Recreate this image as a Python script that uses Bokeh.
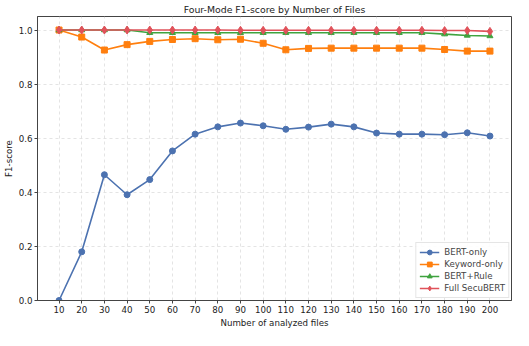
from bokeh.plotting import figure
from bokeh.models import Range1d, FixedTicker, Legend, LegendItem, PrintfTickFormatter
from bokeh.embed import file_html
from bokeh.resources import INLINE

files = [10, 20, 30, 40, 50, 60, 70, 80, 90, 100, 110, 120, 130, 140, 150, 160, 170, 180, 190, 200]
bert_only = [0.0, 0.18, 0.465, 0.391, 0.447, 0.553, 0.615, 0.642, 0.656, 0.646, 0.633, 0.641, 0.652, 0.642, 0.619, 0.615, 0.615, 0.613, 0.620, 0.608]
keyword_only = [1.0, 0.974, 0.926, 0.946, 0.958, 0.965, 0.968, 0.964, 0.966, 0.951, 0.927, 0.932, 0.933, 0.933, 0.933, 0.933, 0.933, 0.928, 0.922, 0.922]
bert_rule = [1.0, 1.0, 1.0, 1.0, 0.99, 0.99, 0.99, 0.99, 0.99, 0.99, 0.99, 0.99, 0.99, 0.99, 0.99, 0.99, 0.99, 0.985, 0.98, 0.978]
full_secubert = [1.0, 1.0, 1.0, 1.0, 1.0, 1.0, 1.0, 1.0, 0.999, 0.999, 0.999, 0.999, 0.999, 0.999, 0.999, 0.999, 0.999, 0.998, 0.998, 0.995]

series = [
    ("BERT-only", bert_only, "#4c72b0", "circle"),
    ("Keyword-only", keyword_only, "#ff7f0e", "square"),
    ("BERT+Rule", bert_rule, "#3fa33f", "triangle"),
    ("Full SecuBERT", full_secubert, "#e0525a", "diamond"),
]

FONT = "DejaVu Sans"

p = figure(width=513, height=330, output_backend="svg", toolbar_location=None,
           x_range=Range1d(0.5, 209.5), y_range=Range1d(0, 1.05),
           min_border_left=30, min_border_right=2, min_border_top=2, min_border_bottom=0)

p.title.text = "Four-Mode F1-score by Number of Files"
p.title.align = "center"
p.title.text_font = FONT
p.title.text_font_size = "7pt"
p.title.text_font_style = "normal"
p.title.text_color = "#222222"
p.title.standoff = 3

for ax in (p.xaxis, p.yaxis):
    ax.axis_label_text_font = FONT
    ax.axis_label_text_font_size = "6.5pt"
    ax.axis_label_text_font_style = "normal"
    ax.axis_label_text_color = "#222222"
    ax.major_label_text_font = FONT
    ax.major_label_text_font_size = "6.5pt"
    ax.major_label_text_color = "#222222"
    ax.axis_line_color = "#444444"
    ax.major_tick_line_color = "#444444"
    ax.major_tick_out = 3
    ax.major_tick_in = 0
    ax.minor_tick_line_color = None
    ax.axis_label_standoff = 2
    ax.major_label_standoff = 2

p.xaxis.axis_label = "Number of analyzed files"
p.yaxis.axis_label = "F1-score"
p.xaxis.ticker = FixedTicker(ticks=files)
p.yaxis.ticker = FixedTicker(ticks=[0.0, 0.2, 0.4, 0.6, 0.8, 1.0])
p.yaxis.formatter = PrintfTickFormatter(format="%.1f")

p.outline_line_color = "#444444"
p.outline_line_alpha = 1.0
p.grid.grid_line_color = "#dddddd"
p.grid.grid_line_dash = "3 3"
p.grid.grid_line_alpha = 0.8

items = []
for name, vals, color, marker in series:
    r1 = p.line(files, vals, line_color=color, line_width=1.6)
    r2 = p.scatter(files, vals, marker=marker, size=6 if marker != "diamond" else 8,
                   fill_color=color, line_color=color)
    items.append(LegendItem(label=name, renderers=[r1, r2]))

legend = Legend(items=items, location="bottom_right")
legend.label_text_font = FONT
legend.label_text_font_size = "6.5pt"
legend.label_height = 9
legend.glyph_height = 12
legend.glyph_width = 20
legend.spacing = 0
legend.padding = 3
legend.margin = 2
legend.border_line_color = "#cccccc"
legend.background_fill_alpha = 0.9
p.add_layout(legend)

open("out.html", "w").write(file_html(p, INLINE))
